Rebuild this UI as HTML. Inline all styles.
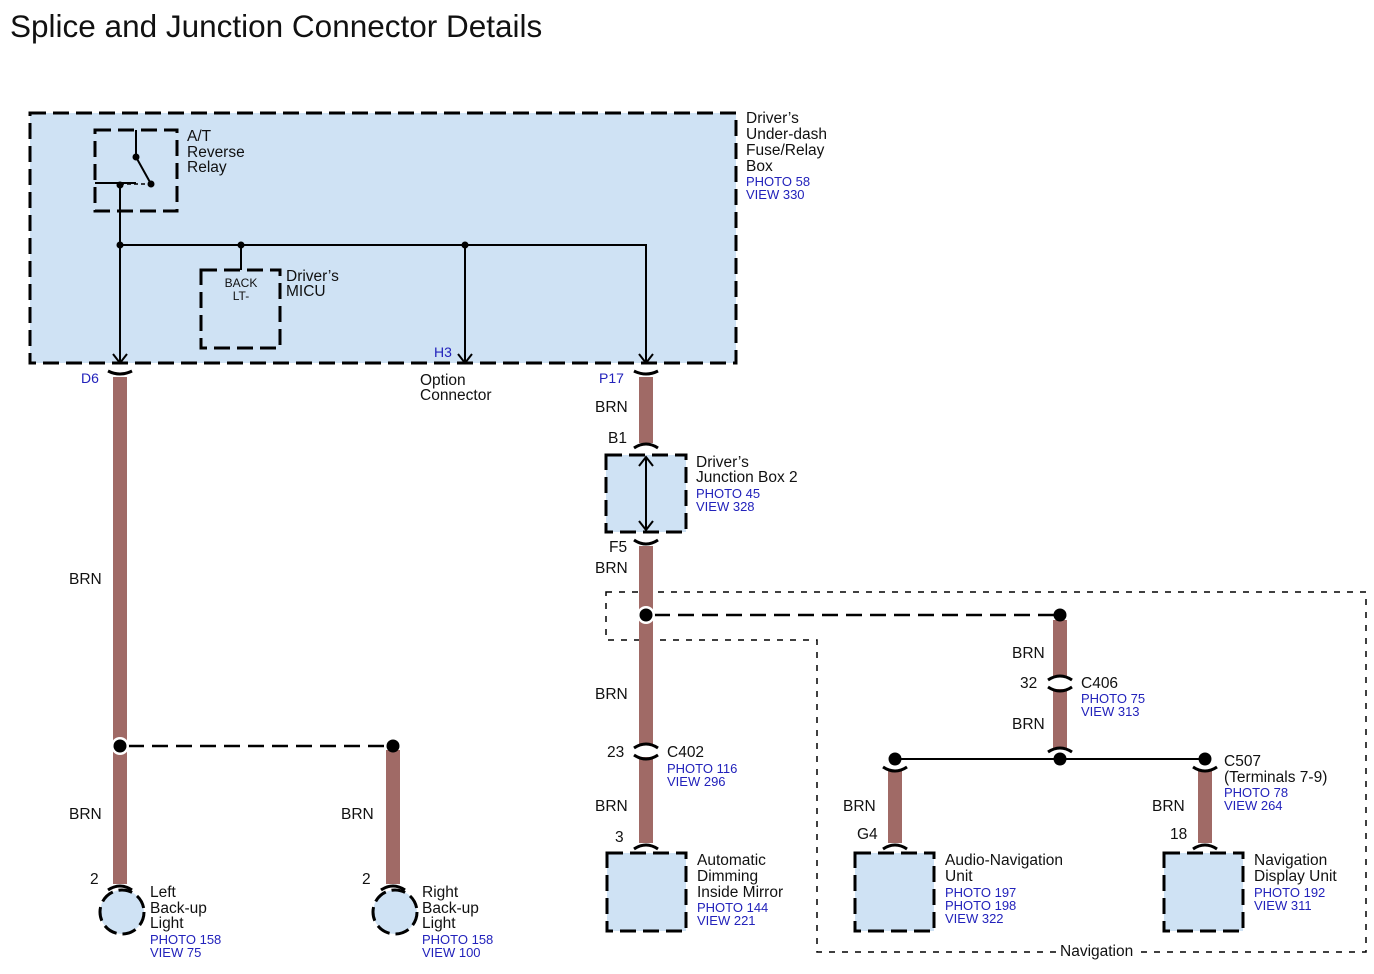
<!DOCTYPE html>
<html><head><meta charset="utf-8"><style>
body{margin:0;background:#fff}
svg{display:block}
text{font-family:"Liberation Sans",sans-serif;font-size:15.5px;fill:#111}
.b{fill:#2222bb;font-size:13px}
.s{font-size:12px}
</style></head><body>
<svg width="1374" height="974" viewBox="0 0 1374 974">
<text x="10" y="37" style="font-size:31.5px">Splice and Junction Connector Details</text>

<g stroke="#000" stroke-width="3" stroke-dasharray="16,7" fill="#cfe2f4">
<rect x="30" y="113" width="706" height="250"/>
<rect x="95" y="130" width="82" height="81"/>
<rect x="201" y="270" width="79" height="78"/>
<rect x="606" y="455" width="80" height="77"/>
<rect x="607" y="853" width="79" height="78"/>
<rect x="855" y="853" width="79" height="78"/>
<rect x="1164" y="853" width="79" height="78"/>
<circle cx="122" cy="912" r="22" stroke-dasharray="14,6"/>
<circle cx="395" cy="912" r="22" stroke-dasharray="14,6"/>
</g>
<path d="M606,592 H1366 V952 H817 V640 H606 Z" fill="none" stroke="#000" stroke-width="1.5" stroke-dasharray="6,7"/>

<g stroke="#000" stroke-width="2" fill="none">
<path d="M136,130 V157 L151,184"/>
<path d="M95,183 H136"/>
<path d="M120,183 V363"/>
<path d="M120,245 H646 V363"/>
<path d="M465,245 V363"/>
<path d="M241,245 V270"/>
<path d="M646,457 V530"/>
<path d="M895,759 H1205"/>
<path d="M113,354 L120,363 L127,354"/>
<path d="M458,354 L465,363 L472,354"/>
<path d="M639,354 L646,363 L653,354"/>
<path d="M639,466 L646,457 L653,466"/>
<path d="M639,521 L646,530 L653,521"/>
</g>
<path d="M120,184 H151" stroke="#000" stroke-width="1.5" stroke-dasharray="4,3"/>
<g fill="#000">
<circle cx="136" cy="157" r="3.5"/><circle cx="151" cy="184" r="3.5"/><circle cx="120" cy="185" r="3.5"/>
<circle cx="120" cy="245" r="3.5"/><circle cx="241" cy="245" r="3.5"/><circle cx="465" cy="245" r="3.5"/>
</g>

<g stroke="#a06a66" stroke-width="14">
<path d="M120,377 V884"/>
<path d="M393,750 V884"/>
<path d="M646,377 V443"/>
<path d="M646,546 V744 M646,757 V843"/>
<path d="M1060,620 V676 M1060,689 V748"/>
<path d="M895,770 V843"/>
<path d="M1205,770 V843"/>
</g>
<g stroke="#000" stroke-width="3" fill="none">
<path d="M108,371 Q120,377 132,371"/>
<path d="M108,890 Q120,882 132,890"/>
<path d="M381,890 Q393,882 405,890"/>
<path d="M634,371 Q646,377 658,371"/>
<path d="M634,448 Q646,440 658,448"/>
<path d="M634,540 Q646,548 658,540"/>
<path d="M634,748 Q646,740 658,748"/>
<path d="M634,755 Q646,763 658,755"/>
<path d="M634,849 Q646,841 658,849"/>
<path d="M1048,680 Q1060,672 1072,680"/>
<path d="M1048,687 Q1060,695 1072,687"/>
<path d="M1048,752 Q1060,744 1072,752"/>
<path d="M883,767 Q895,775 907,767"/>
<path d="M883,849 Q895,841 907,849"/>
<path d="M1193,767 Q1205,775 1217,767"/>
<path d="M1193,849 Q1205,841 1217,849"/>
</g>
<g stroke="#000" stroke-width="2.5" stroke-dasharray="16,8">
<path d="M128,746 H393"/>
<path d="M654,615 H1060"/>
</g>
<g>
<circle cx="120" cy="746" r="9" fill="#fff"/><circle cx="120" cy="746" r="6.5" fill="#000"/>
<circle cx="393" cy="746" r="6.5" fill="#000"/>
<circle cx="646" cy="615" r="9" fill="#fff"/><circle cx="646" cy="615" r="6.5" fill="#000"/>
<circle cx="1060" cy="615" r="6.5" fill="#000"/>
<circle cx="895" cy="759" r="6.5" fill="#000"/><circle cx="1060" cy="759" r="6.5" fill="#000"/><circle cx="1205" cy="759" r="6.5" fill="#000"/>
</g>

<text x="187" y="141">A/T</text><text x="187" y="157">Reverse</text><text x="187" y="172">Relay</text>
<text x="746" y="123">Driver’s</text><text x="746" y="139">Under-dash</text><text x="746" y="155">Fuse/Relay</text><text x="746" y="171">Box</text>
<text class="b" x="746" y="186">PHOTO 58</text><text class="b" x="746" y="199">VIEW 330</text>
<text class="s" x="241" y="287" text-anchor="middle">BACK</text><text class="s" x="241" y="300" text-anchor="middle">LT-</text>
<text x="286" y="281">Driver’s</text><text x="286" y="296">MICU</text>
<text class="b" x="81" y="383" style="font-size:14px">D6</text>
<text class="b" x="434" y="357" style="font-size:14px">H3</text>
<text class="b" x="599" y="383" style="font-size:14px">P17</text>
<text x="420" y="385">Option</text><text x="420" y="400">Connector</text>
<text x="595" y="412">BRN</text><text x="608" y="443">B1</text>
<text x="696" y="467">Driver’s</text><text x="696" y="482">Junction Box 2</text>
<text class="b" x="696" y="498">PHOTO 45</text><text class="b" x="696" y="511">VIEW 328</text>
<text x="609" y="552">F5</text><text x="595" y="573">BRN</text>
<text x="69" y="584">BRN</text>
<text x="595" y="699">BRN</text>
<text x="607" y="757">23</text><text x="667" y="757">C402</text>
<text class="b" x="667" y="773">PHOTO 116</text><text class="b" x="667" y="786">VIEW 296</text>
<text x="595" y="811">BRN</text><text x="615" y="842">3</text>
<text x="69" y="819">BRN</text><text x="341" y="819">BRN</text>
<text x="90" y="884">2</text><text x="362" y="884">2</text>
<text x="150" y="897">Left</text><text x="150" y="913">Back-up</text><text x="150" y="928">Light</text>
<text class="b" x="150" y="944">PHOTO 158</text><text class="b" x="150" y="957">VIEW 75</text>
<text x="422" y="897">Right</text><text x="422" y="913">Back-up</text><text x="422" y="928">Light</text>
<text class="b" x="422" y="944">PHOTO 158</text><text class="b" x="422" y="957">VIEW 100</text>
<text x="697" y="865">Automatic</text><text x="697" y="881">Dimming</text><text x="697" y="897">Inside Mirror</text>
<text class="b" x="697" y="912">PHOTO 144</text><text class="b" x="697" y="925">VIEW 221</text>
<text x="1012" y="658">BRN</text>
<text x="1020" y="688">32</text><text x="1081" y="688">C406</text>
<text class="b" x="1081" y="703">PHOTO 75</text><text class="b" x="1081" y="716">VIEW 313</text>
<text x="1012" y="729">BRN</text>
<text x="1224" y="766">C507</text><text x="1224" y="782">(Terminals 7-9)</text>
<text class="b" x="1224" y="797">PHOTO 78</text><text class="b" x="1224" y="810">VIEW 264</text>
<text x="843" y="811">BRN</text><text x="1152" y="811">BRN</text>
<text x="857" y="839">G4</text><text x="1170" y="839">18</text>
<text x="945" y="865">Audio-Navigation</text><text x="945" y="881">Unit</text>
<text class="b" x="945" y="897">PHOTO 197</text><text class="b" x="945" y="910">PHOTO 198</text><text class="b" x="945" y="923">VIEW 322</text>
<text x="1254" y="865">Navigation</text><text x="1254" y="881">Display Unit</text>
<text class="b" x="1254" y="897">PHOTO 192</text><text class="b" x="1254" y="910">VIEW 311</text>
<rect x="1056" y="942" width="82" height="16" fill="#fff"/>
<text x="1060" y="956">Navigation</text>
</svg>
</body></html>
